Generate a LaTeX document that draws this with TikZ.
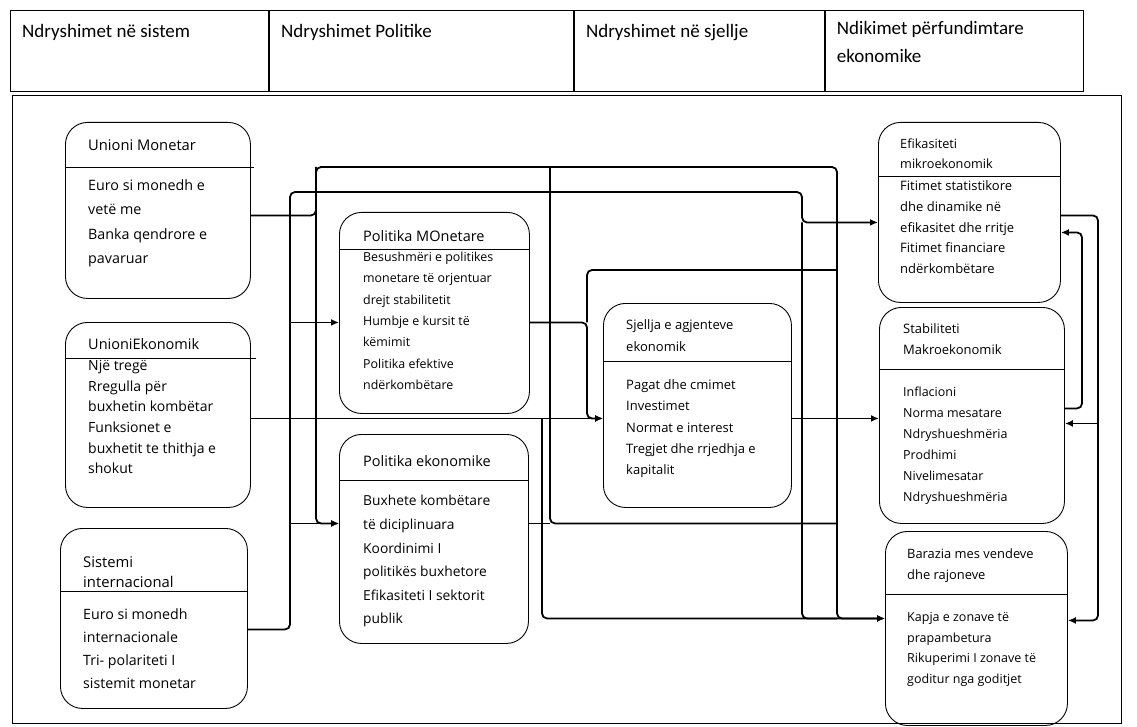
\documentclass[tikz,border=0pt]{standalone}
\usepackage{fontspec}
\setmainfont{Open Sans}
\newfontfamily\headfont{Carlito}
\usetikzlibrary{arrows.meta,positioning}

\begin{document}
\begin{tikzpicture}[
	x=1pt, y=-1pt,
	headbox/.style={draw, line width=0.9pt, minimum height=81pt, anchor=north west, inner sep=0pt},
	headtxt/.style={anchor=north west, align=left, inner sep=0pt, font=\headfont\fontsize{19}{28}\selectfont},
	box/.style={draw, line width=0.9pt, rounded corners=22pt, anchor=north west, inner sep=0pt},
	txt/.style 2 args={anchor=north west, align=left, inner sep=0pt, font=\fontsize{#1}{#2}\selectfont},
	divider/.style={line width=0.9pt},
	wire/.style={line width=1.8pt, rounded corners=5pt},
	arrow/.style={wire, -{Latex[length=8pt,width=7pt]}}
]
\useasboundingbox (0,0) rectangle (1137,727);

\node[draw, line width=1pt, minimum width=1109pt, minimum height=628pt, anchor=north west, inner sep=0pt] (frame) at (12,95) {};

\node[headbox, minimum width=258pt] (h1) at (10,10) {};
\node[headbox, minimum width=304pt, right=0pt of h1] (h2) {};
\node[headbox, minimum width=250pt, right=0pt of h2] (h3) {};
\node[headbox, minimum width=258pt, right=0pt of h3] (h4) {};
\node[headtxt, below right=8pt and 12pt of h1.north west] (h1-t) {\strut Ndryshimet në sistem};
\node[headtxt, below right=8pt and 12pt of h2.north west] (h2-t) {\strut Ndryshimet Politike};
\node[headtxt, below right=8pt and 12pt of h3.north west] (h3-t) {\strut Ndryshimet në sjellje};
\node[headtxt, below right=5pt and 12pt of h4.north west] (h4-t) {\strut Ndikimet përfundimtare\\ekonomike};

\node[box, minimum width=185pt, minimum height=176pt] (um) at (65,122) {};
\draw[divider] ([yshift=-45pt]um.north west) -- ([yshift=-45pt,xshift=3pt]um.north east);
\node[txt={14.7}{24}, below right=12pt and 23pt of um.north west] (um-t) {\strut Unioni Monetar};
\node[txt={14.3}{24}, below right=52pt and 23pt of um.north west] (um-b) {\strut Euro si monedh e\\vetë me\\Banka qendrore e\\pavaruar};

\node[box, minimum width=185pt, minimum height=185pt] (ue) at (65,322) {};
\draw[divider] ([yshift=-36pt]ue.north west) -- ([yshift=-36pt,xshift=5pt]ue.north east);
\node[txt={14.5}{20.6}, below right=13pt and 23pt of ue.north west] (ue-t) {\strut UnioniEkonomik};
\node[txt={14}{20.6}, below right=34pt and 23pt of ue.north west] (ue-b) {\strut Një tregë\\Rregulla për\\buxhetin kombëtar\\Funksionet e\\buxhetit te thithja e\\shokut};

\node[box, minimum width=187pt, minimum height=180pt] (si) at (60,528) {};
\draw[divider] ([yshift=-63pt]si.north west) -- ([yshift=-63pt]si.north east);
\node[txt={14.8}{20}, below right=25pt and 23pt of si.north west] (si-t) {\strut Sistemi\\internacional};
\node[txt={14.2}{23.3}, below right=74.5pt and 23pt of si.north west] (si-b) {\strut Euro si monedh\\internacionale\\Tri- polariteti I\\sistemit monetar};

\node[box, minimum width=190pt, minimum height=201pt] (pm) at (339,212) {};
\draw[divider] ([yshift=-37pt]pm.north west) -- ([yshift=-37pt]pm.north east);
\node[txt={14.5}{21.3}, below right=14pt and 24pt of pm.north west] (pm-t) {\strut Politika MOnetare};
\node[txt={12.4}{21.3}, below right=34.4pt and 24pt of pm.north west] (pm-b) {\strut Besushmëri e politikes\\monetare të orjentuar\\drejt stabilitetit\\Humbje e kursit të\\këmimit\\Politika efektive\\ndërkombëtare};

\node[box, minimum width=189pt, minimum height=209pt] (pe) at (339,434) {};
\draw[divider] ([yshift=-46pt]pe.north west) -- ([yshift=-46pt]pe.north east);
\node[txt={14.5}{23.6}, below right=15.3pt and 24pt of pe.north west] (pe-t) {\strut Politika ekonomike};
\node[txt={13.8}{23.6}, below right=55.2pt and 24pt of pe.north west] (pe-b) {\strut Buxhete kombëtare\\të diciplinuara\\Koordinimi I\\politikës buxhetore\\Efikasiteti I sektorit\\publik};

\node[box, minimum width=188pt, minimum height=204pt] (sj) at (603,303) {};
\draw[divider] ([yshift=-58pt]sj.north west) -- ([yshift=-58pt]sj.north east);
\node[txt={13}{22}, below right=11pt and 23pt of sj.north west] (sj-t) {\strut Sjellja e agjenteve\\ekonomik};
\node[txt={13}{21.25}, below right=71.5pt and 23pt of sj.north west] (sj-b) {\strut Pagat dhe cmimet\\Investimet\\Normat e interest\\Tregjet dhe rrjedhja e\\kapitalit};

\node[box, minimum width=182pt, minimum height=180pt] (ef) at (878,122) {};
\draw[divider] ([yshift=-54pt]ef.north west) -- ([yshift=-54pt]ef.north east);
\node[txt={12.7}{20}, below right=12.4pt and 22pt of ef.north west] (ef-t) {\strut Efikasiteti\\mikroekonomik};
\node[txt={13}{20.75}, below right=54pt and 22pt of ef.north west] (ef-b) {\strut Fitimet statistikore\\dhe dinamike në\\efikasitet dhe rritje\\Fitimet financiare\\ndërkombëtare};

\node[box, minimum width=185pt, minimum height=216pt] (st) at (879,307) {};
\draw[divider] ([yshift=-62pt]st.north west) -- ([yshift=-62pt]st.north east);
\node[txt={13}{21}, below right=11.8pt and 24pt of st.north west] (st-t) {\strut Stabiliteti\\Makroekonomik};
\node[txt={12.5}{21}, below right=74.7pt and 24pt of st.north west] (st-b) {\strut Inflacioni\\Norma mesatare\\Ndryshueshmëria\\Prodhimi\\Nivelimesatar\\Ndryshueshmëria};

\node[box, minimum width=182pt, minimum height=194pt] (ba) at (885,531) {};
\draw[divider] ([yshift=-63pt]ba.north west) -- ([yshift=-63pt]ba.north east);
\node[txt={12.9}{21}, below right=12.7pt and 22pt of ba.north west] (ba-t) {\strut Barazia mes vendeve\\dhe rajoneve};
\node[txt={12.5}{20.7}, below right=75.8pt and 22pt of ba.north west] (ba-b) {\strut Kapja e zonave të\\prapambetura\\Rikuperimi I zonave të\\goditur nga goditjet};

\coordinate (um-out) at ([yshift=-5pt]um.east);
\coordinate (ue-out) at ([yshift=-3.5pt]ue.east);
\coordinate (si-out) at ([yshift=-11pt]si.east);
\coordinate (pm-in) at ([yshift=-9.5pt]pm.west);
\coordinate (pm-out) at ([yshift=-9.5pt]pm.east);
\coordinate (pe-in) at ([yshift=15.5pt]pe.west);
\coordinate (pe-out) at ([yshift=15.5pt]pe.east);
\coordinate (sj-in) at ([yshift=-13pt]sj.west);
\coordinate (sj-out) at ([yshift=-13pt]sj.east);
\coordinate (ef-in) at ([yshift=-10pt]ef.west);
\coordinate (ef-out) at ([yshift=-3pt]ef.east);
\coordinate (ef-rin) at ([yshift=-20pt]ef.east);
\coordinate (st-in) at ([yshift=-3pt]st.west);
\coordinate (st-out) at ([yshift=7pt]st.east);
\coordinate (st-rin) at ([yshift=-8pt]st.east);
\coordinate (ba-in) at ([yshift=10pt]ba.west);
\coordinate (ba-rin) at ([yshift=8pt]ba.east);

\coordinate (xa) at (290,0);
\coordinate (xb) at (316,0);
\coordinate (xc) at (542,0);
\coordinate (xd) at (550,0);
\coordinate (xe) at (587,0);
\coordinate (xf) at (802,0);
\coordinate (xg) at (837,0);
\coordinate (xh) at (1082,0);
\coordinate (xi) at (1098,0);
\coordinate (ya) at (0,167);
\coordinate (yb) at (0,192);
\coordinate (yc) at (0,270);

\draw[arrow] (um-out) -| (xb |- ya) -| (xg |- ba-in) -- (ba-in);
\draw[arrow] (xb |- ya) |- (pe-in);
\draw[arrow] (ue-out) -- (sj-in);
\draw[arrow] (si-out) -| (xa |- yb) -| (xf |- ef-in) -- (ef-in);
\draw[arrow] (xa |- pm-in) -- (pm-in);
\draw[arrow] (xa |- pe-in) -- (pe-in);
\draw[arrow] (pm-out) -| (xe |- sj-in) -- (sj-in);
\draw[wire] (xg |- yc) -| (xe |- pm-out);
\draw[wire] (xd |- ya) |- (xg |- pe-out);
\draw[wire] (pe-out) -- (xd |- pe-out);
\draw[arrow] (xc |- ue-out) |- (ba-in);
\draw[wire] (xf |- ef-in) |- (xg |- ba-in);
\draw[arrow] (sj-out) -- (st-in);
\draw[arrow] (ef-out) -| (xi |- ba-rin) -- (ba-rin);
\draw[arrow] (xi |- st-rin) -- (st-rin);
\draw[arrow] (st-out) -| (xh |- ef-rin) -- (ef-rin);
\end{tikzpicture}
\end{document}
